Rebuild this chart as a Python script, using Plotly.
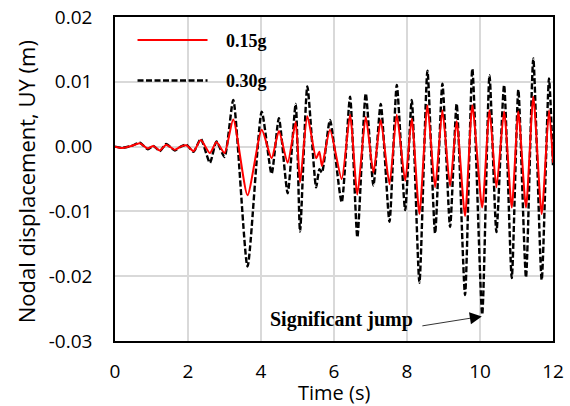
import plotly.graph_objects as go

# ---- data ----
time_s = [0.00, 0.20, 0.45, 0.68, 0.90, 1.05, 1.23, 1.40, 1.64, 1.80, 1.96, 2.15, 2.35, 2.60, 2.78,
          3.00, 3.24, 3.63, 4.02, 4.29, 4.49, 4.73, 4.95, 5.07, 5.27, 5.51, 5.60, 5.67, 5.89, 6.21,
          6.44, 6.64, 6.87, 7.08, 7.28, 7.52, 7.72, 7.95, 8.13, 8.34, 8.56, 8.77, 8.97, 9.18, 9.36,
          9.59, 9.79, 10.06, 10.26, 10.45, 10.66, 10.87, 11.05, 11.26, 11.46, 11.69, 11.89, 12.00]

uy_015g = [0.0000, -0.0002, 0.0001, 0.0005, -0.0003, 0.0001, -0.0006, 0.0003, -0.0005, 0.0000,
           0.0002, -0.0007, 0.0010, -0.0010, 0.0007, -0.0010, 0.0042, -0.0075, 0.0026, -0.0018,
           0.0024, -0.0025, 0.0038, -0.0055, 0.0047, -0.0018, -0.0008, -0.0030, 0.0026, -0.0050,
           0.0049, -0.0074, 0.0046, -0.0040, 0.0041, -0.0058, 0.0049, -0.0053, 0.0043, -0.0104,
           0.0064, -0.0063, 0.0056, -0.0061, 0.0039, -0.0107, 0.0064, -0.0094, 0.0056, -0.0063,
           0.0054, -0.0094, 0.0054, -0.0094, 0.0077, -0.0104, 0.0056, -0.0025]

uy_030g = [0.0000, -0.0002, 0.0001, 0.0006, -0.0004, 0.0001, -0.0007, 0.0004, -0.0006, 0.0000,
           0.0003, -0.0008, 0.0012, -0.0025, 0.0008, -0.0016, 0.0072, -0.0185, 0.0054, -0.0042,
           0.0044, -0.0072, 0.0066, -0.0131, 0.0093, -0.0063, -0.0035, -0.0040, 0.0041, -0.0086,
           0.0077, -0.0140, 0.0082, -0.0060, 0.0066, -0.0116, 0.0095, -0.0098, 0.0072, -0.0210,
           0.0117, -0.0134, 0.0097, -0.0124, 0.0066, -0.0229, 0.0120, -0.0259, 0.0110, -0.0132,
           0.0095, -0.0203, 0.0088, -0.0202, 0.0136, -0.0206, 0.0105, -0.0030]

x_ticks = [0, 2, 4, 6, 8, 10, 12]
y_ticks = [0.02, 0.01, 0.00, -0.01, -0.02, -0.03]
y_tick_labels = ["0.02", "0.01", "0.00", "-0.01", "-0.02", "-0.03"]

# annotation: arrow head on the largest 0.30g trough
jump_t, jump_v = 10.05, -0.0262
jump_tail_t, jump_tail_v = 8.38, -0.0277

fig = go.Figure()
fig.add_trace(go.Scatter(
    x=time_s, y=uy_030g, mode="lines", name="\u00a0\u00a0\u00a00.30g",
    line=dict(color="black", width=2.4, dash="6px,2.5px", shape="spline", smoothing=0.6),
    legendrank=2, legendgroup="b"))
fig.add_trace(go.Scatter(
    x=time_s, y=uy_015g, mode="lines", name="\u00a0\u00a0\u00a00.15g",
    line=dict(color="#ff0000", width=2, shape="spline", smoothing=0.6),
    legendrank=1, legendgroup="a"))

sans = "Open Sans, Lato, sans-serif"
tick_font = dict(family=sans, size=19, color="black")
fig.update_xaxes(
    range=[0, 12], tickvals=x_ticks, showgrid=True, gridcolor="#d9d9d9", gridwidth=1.5,
    showline=True, linecolor="black", linewidth=1.5, mirror=True, zeroline=False,
    ticks="outside", ticklen=12, tickcolor="rgba(0,0,0,0)", tickfont=tick_font, automargin=False)
fig.update_yaxes(
    range=[-0.03, 0.02], tickvals=y_ticks, ticktext=y_tick_labels, showgrid=True,
    gridcolor="#d9d9d9", gridwidth=1.5, showline=True, linecolor="black", linewidth=1.5,
    mirror=True, zeroline=False, ticks="outside", ticklen=17, tickcolor="rgba(0,0,0,0)",
    tickfont=tick_font, automargin=False)

# axis titles as paper-anchored texts, placed like the reference
fig.add_annotation(x=-0.203, y=0.49, xref="paper", yref="paper", xanchor="center", yanchor="middle",
                   text="Nodal displacement, UY (m)", textangle=-90, showarrow=False,
                   font=dict(family=sans, size=22, color="black"))
fig.add_annotation(x=0.5, y=-0.158, xref="paper", yref="paper", xanchor="center", yanchor="middle",
                   text="Time (s)", showarrow=False,
                   font=dict(family=sans, size=20, color="black"))

fig.add_annotation(x=jump_t, y=jump_v, ax=jump_tail_t, ay=jump_tail_v, axref="x", ayref="y",
                   xref="x", yref="y", text="", showarrow=True, arrowhead=2, arrowsize=3,
                   arrowwidth=0.8, arrowcolor="black")
fig.add_annotation(x=jump_tail_t, y=jump_tail_v, xref="x", yref="y", xanchor="right", yanchor="middle",
                   text="<b>Significant jump</b>", showarrow=False, xshift=-6, yshift=7,
                   font=dict(family="Liberation Serif, Times New Roman, serif", size=20, color="black"))

fig.update_layout(
    width=570, height=406, margin=dict(l=115, r=17, t=17, b=65),
    paper_bgcolor="white", plot_bgcolor="white",
    legend=dict(x=0.04, y=0.985, xanchor="left", yanchor="top", bgcolor="rgba(255,255,255,0)",
                traceorder="grouped", tracegroupgap=14, itemwidth=70,
                font=dict(family="Liberation Serif, Times New Roman, serif", size=18, color="black", weight="bold")),
)
fig.write_html("out.html", config={"displayModeBar": False},
               post_script="document.body.style.margin='0';document.body.style.overflow='hidden';")
